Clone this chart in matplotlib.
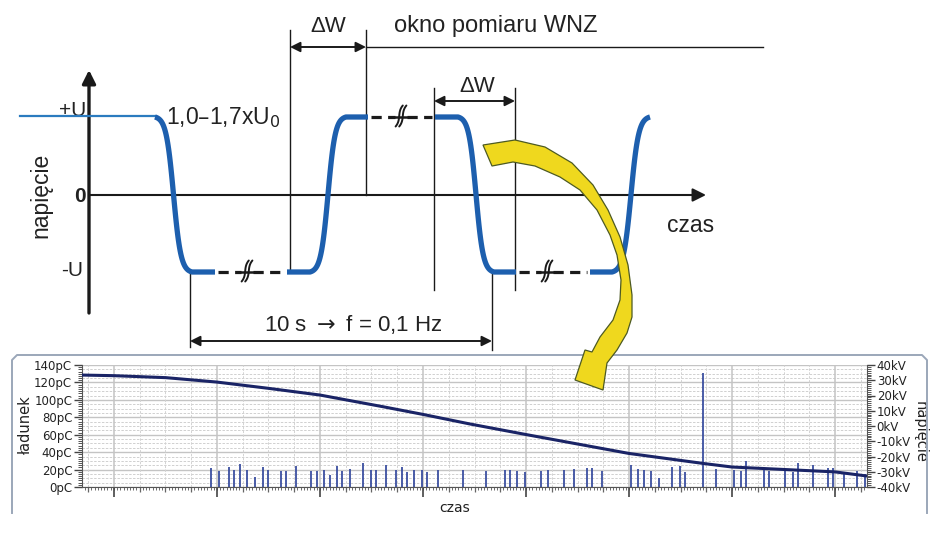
## Recreation of the WNZ measurement diagram with the charge / voltage record below
import numpy as np
import matplotlib
matplotlib.use("Agg")
import matplotlib.pyplot as plt
from matplotlib.patches import Polygon
from matplotlib.ticker import MultipleLocator, FixedLocator

## Lower chart data, time in grid divisions (4 divisions per major line)
pulseTimes = [3.77, 4.08, 4.47, 4.67, 4.88, 5.18, 5.48, 5.79, 5.98, 6.49, 6.67, 7.07,
              7.66, 7.87, 8.17, 8.38, 8.67, 8.87, 9.17, 9.67, 9.97, 10.16, 10.57, 10.96,
              11.17, 11.37, 11.66, 11.96, 12.17, 12.57, 13.57, 14.46, 15.17, 15.37, 15.66,
              15.97, 16.57, 16.87, 17.48, 17.86, 18.37, 18.56, 18.96, 20.07, 20.36, 20.57,
              20.87, 21.17, 21.67, 21.97, 22.16, 22.87, 23.37, 24.07, 24.36, 24.56, 25.25,
              25.45, 26.05, 26.36, 26.56, 27.15, 27.74, 27.93, 28.34, 28.84, 29.15]
pulseCharges = [22, 18, 23, 19, 26.5, 19, 11.5, 23, 20, 18, 18, 24,
                18, 18, 19, 14, 24, 18, 21, 27, 19, 19, 25, 20,
                23, 17, 20, 19, 17, 20, 20, 18, 19, 19, 18,
                17, 18, 19, 19, 21, 22, 22, 18, 25, 21, 19,
                18, 10, 23, 24, 17, 131, 21, 19, 18, 30, 19,
                18, 21, 17, 28, 25, 22, 22, 15, 18, 15]
voltageTimes = [-1.24, 0, 2.02, 4, 6, 8, 10.46, 12, 13.8, 16, 20, 22.9, 24, 28, 29.24]
voltageValues = [33.4, 33.0, 31.7, 28.8, 24.7, 20.3, 12.6, 7.6, 1.4, -5.6, -18, -24.6, -26.9, -30.1, -32.8]
chargeTicks = [0, 20, 40, 60, 80, 100, 120, 140]
voltageTicks = [-40, -30, -20, -10, 0, 10, 20, 30, 40]

## Schematic waveform (drawing units are pixels of the picture)
levelHigh = 117
levelLow = 272
levelZero = 195
edgeStarts = [155, 310, 458, 612]
edgeEnds = [192, 346, 494, 650]
edgeFalling = [True, False, True, False]
breakSegments = [(215, 287, 247, levelLow), (368, 435, 401, levelHigh), (516, 590, 547, levelLow)]

schemaFont = "Liberation Sans"
chartFont = "DejaVu Sans"
blue = "#1d5fae"
ink = "#1a1a1a"


def edgeCurve(x0, x1, falling, k=5.0):
    ## Smooth S-shaped transition between the two levels
    s = np.linspace(0, 1, 80)
    f = (np.tanh(k * (s - 0.5)) / np.tanh(k / 2) + 1) / 2
    y0, y1 = (levelHigh, levelLow) if falling else (levelLow, levelHigh)
    return x0 + (x1 - x0) * s, y0 + (y1 - y0) * f


def breakSymbol(ax, cx, cy):
    ## Two parallel integral-like strokes marking the broken time axis
    v = np.linspace(-1, 1, 40)
    for d in (-1.8, 1.8):
        ax.plot(cx + d - 1.0 * v - 2.6 * v ** 3, cy + 10.5 * v, color=ink, lw=1.4,
                solid_capstyle='round', zorder=6)


def dimArrow(ax, x0, x1, y):
    ax.annotate('', xy=(x1, y), xytext=(x0, y),
                arrowprops=dict(arrowstyle='<|-|>', lw=1.4, color=ink, mutation_scale=15,
                                shrinkA=0, shrinkB=0), zorder=4)


def main():
    fig = plt.figure(figsize=(9.38, 5.36), dpi=100)

    ## ---------------- lower chart ----------------
    ax = fig.add_axes([82 / 938, 49 / 536, 785 / 938, 122 / 536], zorder=1)
    ax.set_xlim(-1.24, 29.24)
    ax.set_ylim(0, 140)
    ## Grid lines
    for v in np.arange(0, 141, 5):
        major = v % 20 == 0
        ax.axhline(v, color='#c4c4c4' if major else '#d0d0d0', lw=1.0 if major else 0.7,
                   ls='-' if major else (0, (2.5, 1.5)), zorder=0)
    for v in np.arange(-1, 30, 1):
        major = v % 4 == 0
        ax.axvline(v, color='#c4c4c4' if major else '#d3d3d3', lw=1.1 if major else 0.7,
                   ls='-' if major else (0, (2.5, 1.5)), zorder=0)

    ax.vlines(pulseTimes, 0, pulseCharges, color='#3b4fa0', lw=1.3, zorder=2)

    ax.yaxis.set_major_locator(FixedLocator(chargeTicks))
    ax.set_yticklabels([f"{v}pC" for v in chargeTicks])
    ax.yaxis.set_minor_locator(MultipleLocator(2.5))
    ax.xaxis.set_major_locator(MultipleLocator(4))
    ax.xaxis.set_minor_locator(MultipleLocator(1))
    ax.set_xticklabels([])
    ax.tick_params(axis='x', which='major', length=7, width=1.2, color='#444')
    ax.tick_params(axis='x', which='minor', length=3.5, width=0.9, color='#666')
    ax.tick_params(axis='y', which='major', length=6, width=1.0, color='#444', pad=1,
                   labelsize=8.5, labelcolor='#222')
    ax.tick_params(axis='y', which='minor', length=3, width=0.7, color='#555')
    for lab in ax.get_yticklabels():
        lab.set_fontfamily(chartFont)
    secax = ax.secondary_xaxis('bottom')
    secax.set_xticks(np.arange(-1.125, 29.24, 0.125))
    secax.set_xticklabels([])
    secax.tick_params(length=1.8, width=0.6, color='#555')
    secax.spines['bottom'].set_visible(False)

    for side in ('left', 'bottom'):
        ax.spines[side].set_color('#555')
    ax.spines['top'].set_visible(False)
    ax.spines['right'].set_visible(False)
    ax.set_ylabel('ładunek', fontfamily=chartFont, fontsize=10.5, color='#222', labelpad=1)
    ax.set_xlabel('czas', fontfamily=chartFont, fontsize=10, color='#222')
    ax.xaxis.set_label_coords(0.475, -0.115)
    ax.patch.set_facecolor('white')

    ax2 = ax.twinx()
    ax2.set_ylim(-40, 40)
    ax2.plot(voltageTimes, voltageValues, color='#1a2466', lw=2.2, zorder=3)
    ax2.yaxis.set_major_locator(FixedLocator(voltageTicks))
    ax2.set_yticklabels([f"{v}kV" for v in voltageTicks])
    ax2.yaxis.set_minor_locator(MultipleLocator(1.25))
    ax2.tick_params(axis='y', which='major', length=6, width=1.0, color='#444', pad=1,
                    labelsize=8.5, labelcolor='#222')
    ax2.tick_params(axis='y', which='minor', length=3, width=0.7, color='#555')
    for lab in ax2.get_yticklabels():
        lab.set_fontfamily(chartFont)
    for side in ('top', 'left', 'bottom'):
        ax2.spines[side].set_visible(False)
    ax2.spines['right'].set_color('#555')
    ax2.set_ylabel('napięcie', fontfamily=chartFont, fontsize=10.5, color='#222',
                   rotation=270, va='center', ha='center')
    ax2.yaxis.set_label_coords(1.0675, 0.45)

    ## ---------------- schematic overlay ----------------
    ov = fig.add_axes([0, 0, 1, 1], zorder=5)
    ov.set_xlim(0, 938)
    ov.set_ylim(536, 0)
    ov.axis('off')

    ## Panel frame round the lower chart
    ov.plot([12, 12, 17, 922, 927, 927], [513, 360, 355, 355, 360, 513], color='#9ba7b9', lw=1.4)

    ## Coordinate axes of the schematic
    ov.annotate('', xy=(89, 70), xytext=(89, 313),
                arrowprops=dict(arrowstyle='-|>', lw=2.4, color=ink, mutation_scale=20,
                                shrinkA=0, shrinkB=0))
    ov.annotate('', xy=(706, levelZero), xytext=(89, levelZero),
                arrowprops=dict(arrowstyle='-|>', lw=1.5, color=ink, mutation_scale=20,
                                shrinkA=0, shrinkB=0))

    ## Thin measurement lines
    vlinesDef = [(190, levelLow, 347), (290, 30, levelLow), (366, 30, levelZero),
                 (434, 88, 290), (515, 88, 290), (492, levelLow, 350)]
    for x, y0, y1 in vlinesDef:
        ov.plot([x, x], [y0, y1], color=ink, lw=1.0, zorder=3)
    ov.plot([366, 763], [47, 47], color=ink, lw=1.0)

    dimArrow(ov, 290, 366, 47)
    dimArrow(ov, 434, 515, 101)
    dimArrow(ov, 190, 492, 341)

    ## Waveform
    ov.plot([20, edgeStarts[0]], [levelHigh - 1, levelHigh - 1], color='#2b7bbf', lw=1.6, zorder=4)
    pieces = []
    flats = [(None, 215), (287, 368), (435, 516), (590, None)]
    for (x0, x1, falling), (fa, fb) in zip(zip(edgeStarts, edgeEnds, edgeFalling), flats):
        ex, ey = edgeCurve(x0, x1, falling)
        startLevel = levelHigh if falling else levelLow
        endLevel = levelLow if falling else levelHigh
        xs, ys = list(ex), list(ey)
        if fa is not None:
            xs = [fa] + xs
            ys = [startLevel] + ys
        if fb is not None:
            xs = xs + [fb]
            ys = ys + [endLevel]
        pieces.append((xs, ys))
    for xs, ys in pieces:
        ov.plot(xs, ys, color=blue, lw=3.8, solid_capstyle='butt', solid_joinstyle='round', zorder=4)
    for x0, x1, cx, lvl in breakSegments:
        ov.plot([x0 + 3, cx - 6], [lvl, lvl], color=ink, lw=2.3, ls=(0, (3.2, 2.0)), zorder=4)
        ov.plot([cx + 6, x1 - 3], [lvl, lvl], color=ink, lw=2.3, ls=(0, (3.2, 2.0)), zorder=4)
        ov.plot([cx - 7, cx + 7], [lvl, lvl], color=ink, lw=1.8, zorder=4)
        breakSymbol(ov, cx, lvl - 1)

    ## Texts of the schematic
    tk = dict(fontfamily=schemaFont, color='#222', zorder=3)
    ov.text(73, 110, '+U', fontsize=15, ha='center', va='center', **tk)
    ov.text(80, 196, '0', fontsize=15, ha='center', va='center', fontweight='bold', **tk)
    ov.text(72, 270, '-U', fontsize=15, ha='center', va='center', **tk)
    ov.text(41, 195, 'napięcie', fontsize=16.5, rotation=90, ha='center', va='center', **tk)
    ov.text(691, 225, 'czas', fontsize=16.5, ha='center', va='center', **tk)
    ov.text(328, 26, 'ΔW', fontsize=16, ha='center', va='center', **tk)
    ov.text(477, 86, 'ΔW', fontsize=16, ha='center', va='center', **tk)
    ov.text(394, 26, 'okno pomiaru WNZ', fontsize=17, ha='left', va='center', **tk)
    ov.text(166, 118, '1,0–1,7xU$_0$', fontsize=16.5, ha='left', va='center', **tk)
    ov.text(353, 325, '10 s $\\rightarrow$ f = 0,1 Hz', fontsize=16, ha='center', va='center', **tk)

    ## Yellow curved arrow pointing into the record
    arrowPts = [(483, 145), (515, 140), (545, 147), (572, 163), (593, 185), (608, 210),
                (620, 237), (628, 265), (632, 295), (632, 317), (627, 333), (617, 350),
                (607, 363), (603, 390), (575, 380), (585, 350), (592, 352), (600, 337),
                (613, 320), (620, 300), (621, 280), (617, 255), (610, 235), (597, 210),
                (580, 190), (560, 177), (535, 166), (513, 162), (492, 166)]
    ov.add_patch(Polygon(arrowPts, closed=True, facecolor='#efd81e', edgecolor='#4d5a22',
                         lw=0.9, zorder=7))

    fig.savefig('out.png', dpi=100)


if __name__ == "__main__":
    main()
